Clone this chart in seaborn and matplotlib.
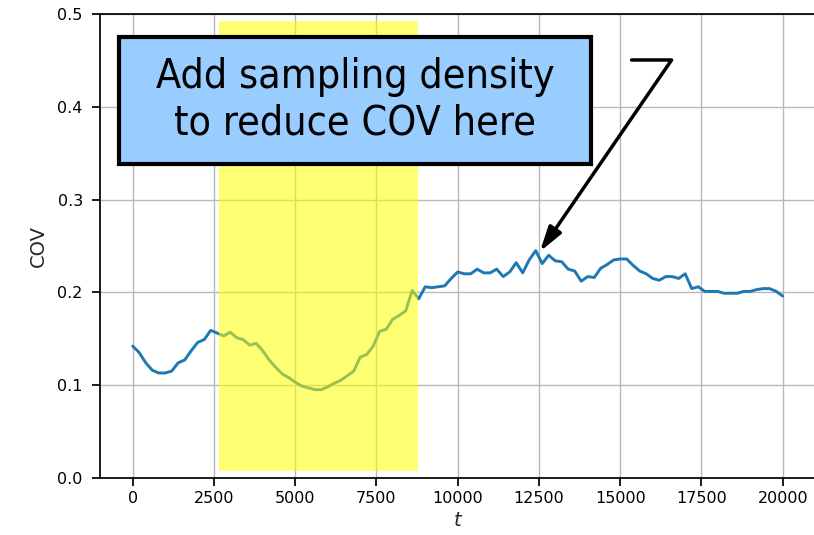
import numpy as np
import pandas as pd
import matplotlib
matplotlib.use("Agg")
import matplotlib.pyplot as plt
from matplotlib.patches import Rectangle
from matplotlib import font_manager
import seaborn as sns

# ---- data -------------------------------------------------------------
t = np.arange(0, 20001, 200)
cov = [
    0.142, 0.135, 0.124, 0.116, 0.113, 0.113, 0.115, 0.124, 0.127, 0.137,
    0.146, 0.149, 0.159, 0.156, 0.153, 0.157, 0.151, 0.149, 0.143, 0.145,
    0.137, 0.127, 0.119, 0.112, 0.108, 0.103, 0.099, 0.097, 0.095, 0.095,
    0.098, 0.102, 0.105, 0.110, 0.115, 0.130, 0.133, 0.142, 0.158, 0.160,
    0.171, 0.175, 0.180, 0.202, 0.193, 0.206, 0.205, 0.206, 0.207, 0.215,
    0.222, 0.220, 0.220, 0.225, 0.221, 0.221, 0.225, 0.217, 0.222, 0.232,
    0.221, 0.235, 0.245, 0.231, 0.240, 0.234, 0.233, 0.225, 0.223, 0.212,
    0.217, 0.216, 0.226, 0.230, 0.235, 0.236, 0.236, 0.229, 0.223, 0.220,
    0.215, 0.213, 0.217, 0.217, 0.215, 0.220, 0.204, 0.206, 0.201, 0.201,
    0.201, 0.199, 0.199, 0.199, 0.201, 0.201, 0.203, 0.204, 0.204, 0.201,
    0.196,
]
highlight = (2650, 8770)
annotation_text = "Add sampling density\nto reduce COV here"
x_ticks = [0, 2500, 5000, 7500, 10000, 12500, 15000, 17500, 20000]
y_ticks = [0.0, 0.1, 0.2, 0.3, 0.4, 0.5]

df = pd.DataFrame({"t": t, "COV": cov})

# ---- style ------------------------------------------------------------
sns.set_theme(context="notebook", style="ticks")
plt.rcParams["font.family"] = ["DejaVu Sans"]
plt.rcParams["axes.edgecolor"] = "black"
plt.rcParams["xtick.color"] = "black"
plt.rcParams["ytick.color"] = "black"
plt.rcParams["xtick.labelsize"] = 11.5
plt.rcParams["ytick.labelsize"] = 11.5

fig = plt.figure(figsize=(8.14, 5.35), dpi=100)
ax = fig.add_axes([0.1231, 0.1071, 0.8784, 0.8662])

sns.lineplot(data=df, x="t", y="COV", ax=ax, color="#1f77b4", lw=2.1, zorder=2)
ax.axvspan(*highlight, ymin=0.015, ymax=0.985, color="yellow", alpha=0.55,
           lw=0, zorder=3)

ax.set_xlim(-1000, 21000)
ax.set_ylim(0, 0.5)
ax.set_xticks(x_ticks)
ax.set_yticks(y_ticks)
ax.tick_params(axis="y", pad=6.5)
ax.grid(True, color="#b8b8b8", lw=1.0)
ax.set_axisbelow(True)
for s in ax.spines.values():
    s.set_color("black")
ax.spines["right"].set_visible(False)
ax.set_xlabel("$t$", fontsize=14)
ax.set_ylabel("COV", fontsize=14, labelpad=7)

# ---- annotation box ---------------------------------------------------
cond = [f for f in font_manager.fontManager.ttflist
        if "DejaVuSansCondensed.ttf" in f.fname]
if cond:
    fp = font_manager.FontProperties(fname=cond[0].fname, size=29.5)
else:
    fp = font_manager.FontProperties(family="DejaVu Sans", size=27)

ax.add_patch(Rectangle((0.0263, 0.677), 0.6601, 0.274, transform=ax.transAxes,
                       facecolor="#99ccff", edgecolor="black", lw=3.0,
                       zorder=10, clip_on=False))
ax.text(0.3564, 0.814, annotation_text, transform=ax.transAxes,
        ha="center", va="center", multialignment="center",
        fontproperties=fp, color="black", zorder=11)

# ---- arrow ------------------------------------------------------------
peak_i = int(np.argmax(cov))
ax.annotate("", xy=(t[peak_i] + 130, cov[peak_i] - 0.001),
            xytext=(15350, 0.4507),
            arrowprops=dict(arrowstyle="-|>,head_length=0.75,head_width=0.22",
                            mutation_scale=20, color="black", lw=2.5,
                            shrinkA=0, shrinkB=0,
                            connectionstyle="angle,angleA=0,angleB=55.5,rad=0"),
            zorder=12)

fig.savefig("out.png", dpi=100)
